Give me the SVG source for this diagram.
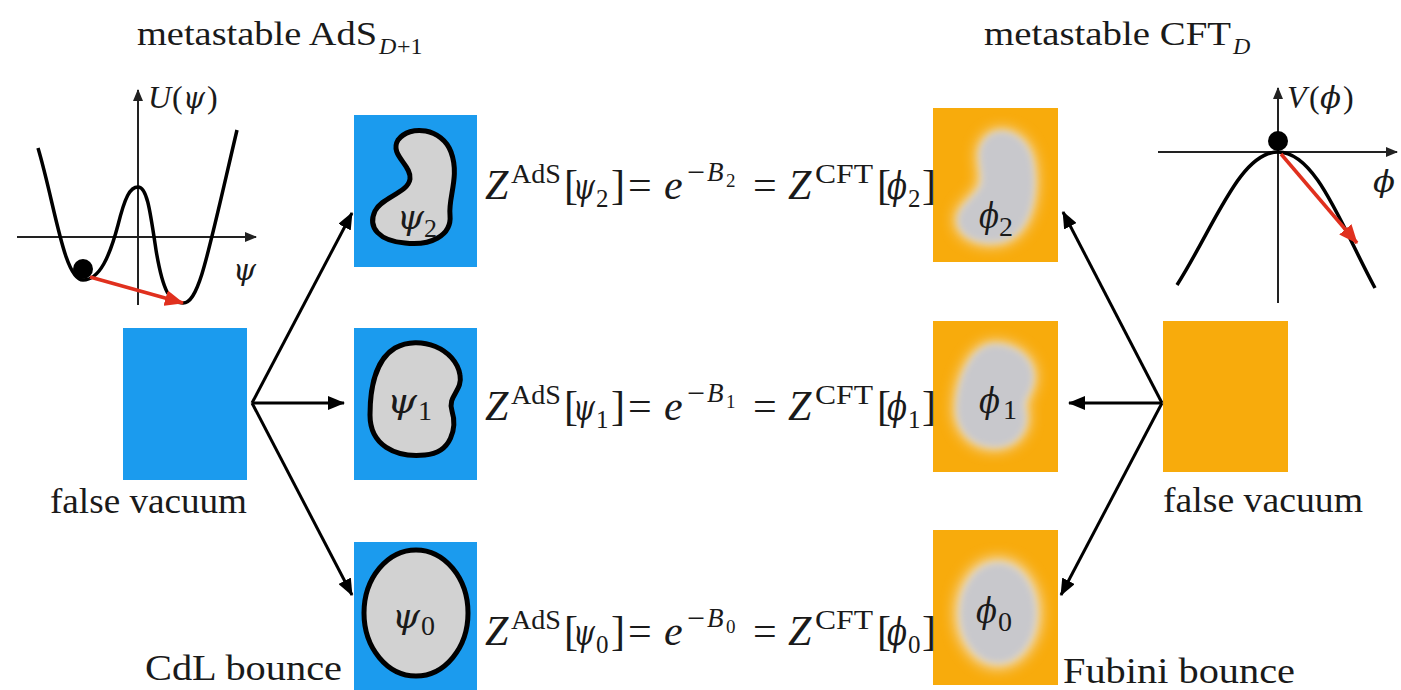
<svg xmlns="http://www.w3.org/2000/svg" width="1401" height="690" viewBox="0 0 1401 690">
<style>
  .t { font-family: "Liberation Serif", "DejaVu Serif", serif; fill: #1a1a1a; }
  .it { font-style: italic; }
  .g { font-family: "DejaVu Serif", "Liberation Serif", serif; font-style: italic; fill: #1a1a1a; }
  .lbl { font-size: 36px; }
  .m { font-size: 42px; }
  .sup { font-size: 27px; }
  .sub { font-size: 25px; }
  .ss { font-size: 19px; }
  .blue { fill: #1B9BEE; }
  .orange { fill: #F8AB0C; }
  .bub { fill: #D2D2D2; stroke: #000; stroke-width: 5; }
  .halo { fill: #F1E2C8; stroke: #F1E2C8; stroke-width: 6; filter: url(#blurA); }
  .core { fill: #C8C8CC; filter: url(#blurB); }
  .axis { stroke: #222; stroke-width: 2; fill: none; }
  .curve { stroke: #000; stroke-width: 3.5; fill: none; }
  .conn { stroke: #000; stroke-width: 3; fill: none; marker-end: url(#ah); }
  .red { stroke: #E0301E; stroke-width: 3.5; fill: none; marker-end: url(#rh); }
</style>
<defs>
  <marker id="ah" markerUnits="userSpaceOnUse" markerWidth="18" markerHeight="14" refX="16" refY="7" orient="auto">
    <path d="M0,0 L17,7 L0,14 z" fill="#000"/>
  </marker>
  <marker id="axh" markerUnits="userSpaceOnUse" markerWidth="12" markerHeight="10" refX="11" refY="5" orient="auto">
    <path d="M0,0 L12,5 L0,10 z" fill="#222"/>
  </marker>
  <marker id="rh" markerUnits="userSpaceOnUse" markerWidth="20" markerHeight="16" refX="18" refY="8" orient="auto">
    <path d="M0,0 L19,8 L0,16 z" fill="#E0301E"/>
  </marker>
  <filter id="blurA" x="-50%" y="-50%" width="200%" height="200%"><feGaussianBlur stdDeviation="7"/></filter>
  <filter id="blurB" x="-50%" y="-50%" width="200%" height="200%"><feGaussianBlur stdDeviation="3.5"/></filter>
</defs>

<rect width="1401" height="690" fill="#fff"/>

<!-- titles -->
<g id="title-left">
  <text class="t" x="137" y="45" font-size="34" textLength="240" lengthAdjust="spacingAndGlyphs">metastable AdS</text>
  <text class="t it" x="379" y="54" font-size="24">D</text>
  <text class="t" x="397" y="54" font-size="24">+1</text>
</g>
<g id="title-right">
  <text class="t" x="984" y="45" font-size="34" textLength="247" lengthAdjust="spacingAndGlyphs">metastable CFT</text>
  <text class="t it" x="1233" y="54" font-size="24">D</text>
</g>

<!-- left potential plot -->
<g id="plot-U">
  <line class="axis" x1="17" y1="237" x2="256" y2="237" marker-end="url(#axh)"/>
  <line class="axis" x1="138" y1="305" x2="138" y2="90" marker-end="url(#axh)"/>
  <path class="curve" d="M38,148 C55,205 64,280 83,280 C100,280 110,255 118,225 C125,197 130,187 138,187 C147,187 150,210 156,250 C163,292 170,303 183,303 C199,303 207,258 237,130"/>
  <line class="red" x1="90" y1="277" x2="183" y2="303"/>
  <circle cx="83" cy="269" r="10" fill="#000"/>
  <text class="t it" x="148" y="108" font-size="32">U</text>
  <text class="t" x="172" y="108" font-size="32">(</text>
  <text class="g" x="183" y="108" font-size="30" textLength="22" lengthAdjust="spacingAndGlyphs">ψ</text>
  <text class="t" x="207" y="108" font-size="32">)</text>
  <text class="g" x="233" y="280" font-size="30" textLength="23" lengthAdjust="spacingAndGlyphs">ψ</text>
</g>

<!-- right potential plot -->
<g id="plot-V">
  <line class="axis" x1="1158" y1="152" x2="1397" y2="152" marker-end="url(#axh)"/>
  <line class="axis" x1="1278" y1="303" x2="1278" y2="88" marker-end="url(#axh)"/>
  <path class="curve" d="M1177,285 C1215,225 1240,152 1278,152 C1316,152 1341,225 1375,288"/>
  <line class="red" x1="1281" y1="154" x2="1357" y2="243"/>
  <circle cx="1278" cy="141" r="10" fill="#000"/>
  <text class="t it" x="1287" y="108" font-size="32">V</text>
  <text class="t" x="1309" y="108" font-size="32">(</text>
  <text class="g" x="1320" y="108" font-size="30" textLength="21" lengthAdjust="spacingAndGlyphs">ϕ</text>
  <text class="t" x="1343" y="108" font-size="32">)</text>
  <text class="g" x="1373" y="192" font-size="30" textLength="22" lengthAdjust="spacingAndGlyphs">ϕ</text>
</g>

<!-- left false vacuum -->
<g id="ads-false-vacuum">
  <rect class="blue" x="123" y="328" width="124" height="152"/>
  <text class="t lbl" x="50" y="513" textLength="197" lengthAdjust="spacingAndGlyphs">false vacuum</text>
</g>

<!-- AdS bubbles -->
<g id="ads-psi2">
  <rect class="blue" x="354" y="115" width="123" height="152"/>
  <path class="bub" d="M398,140 C410,124 442,128 451,152 C460,176 448,198 450,215 C452,236 430,246 405,243 C380,241 367,228 375,211 C382,197 408,193 410,179 C412,165 389,155 398,140 Z"/>
  <text class="g" x="397" y="229" font-size="34" textLength="27" lengthAdjust="spacingAndGlyphs">ψ</text>
  <text class="t" x="424" y="237" font-size="26">2</text>
</g>
<g id="ads-psi1">
  <rect class="blue" x="354" y="328" width="123" height="152"/>
  <path class="bub" d="M395,348 C420,334 456,349 460,375 C463,391 447,396 452,411 C457,427 452,453 425,455 C395,458 370,445 370,415 C370,390 375,360 395,348 Z"/>
  <text class="g" x="387" y="413" font-size="36" textLength="30" lengthAdjust="spacingAndGlyphs">ψ</text>
  <text class="t" x="418" y="420" font-size="28">1</text>
</g>
<g id="ads-psi0">
  <rect class="blue" x="354" y="542" width="123" height="148"/>
  <ellipse class="bub" cx="416" cy="613" rx="52" ry="63"/>
  <text class="g" x="392" y="628" font-size="36" textLength="28" lengthAdjust="spacingAndGlyphs">ψ</text>
  <text class="t" x="421" y="635" font-size="28">0</text>
  <text class="t lbl" x="145" y="680" textLength="197" lengthAdjust="spacingAndGlyphs">CdL bounce</text>
</g>

<!-- CFT bubbles -->
<g id="cft-phi2">
  <rect class="orange" x="933" y="108" width="125" height="154"/>
  <path class="halo" d="M985,140 C995,125 1025,130 1032,160 C1038,190 1032,225 1010,238 C990,248 960,240 958,222 C956,205 982,195 982,180 C982,165 975,152 985,140 Z"/>
  <path class="core" d="M985,140 C995,125 1025,130 1032,160 C1038,190 1032,225 1010,238 C990,248 960,240 958,222 C956,205 982,195 982,180 C982,165 975,152 985,140 Z"/>
  <text class="g" x="979" y="228" font-size="36" textLength="20" lengthAdjust="spacingAndGlyphs">ϕ</text>
  <text class="t" x="999" y="236" font-size="28">2</text>
</g>
<g id="cft-phi1">
  <rect class="orange" x="933" y="321" width="125" height="151"/>
  <path class="halo" d="M990,345 C1015,342 1035,360 1033,380 C1031,395 1022,398 1025,410 C1030,430 1015,448 993,447 C968,446 955,425 957,405 C958,380 970,350 990,345 Z"/>
  <path class="core" d="M990,345 C1015,342 1035,360 1033,380 C1031,395 1022,398 1025,410 C1030,430 1015,448 993,447 C968,446 955,425 957,405 C958,380 970,350 990,345 Z"/>
  <text class="g" x="979" y="413" font-size="36" textLength="21" lengthAdjust="spacingAndGlyphs">ϕ</text>
  <text class="t" x="1003" y="419" font-size="28">1</text>
</g>
<g id="cft-phi0">
  <rect class="orange" x="933" y="530" width="125" height="155"/>
  <ellipse class="halo" cx="998" cy="613" rx="40" ry="52"/>
  <ellipse class="core" cx="998" cy="613" rx="38" ry="50"/>
  <text class="g" x="976" y="623" font-size="36" textLength="21" lengthAdjust="spacingAndGlyphs">ϕ</text>
  <text class="t" x="998" y="631" font-size="28">0</text>
  <text class="t lbl" x="1063" y="683" textLength="232" lengthAdjust="spacingAndGlyphs">Fubini bounce</text>
</g>

<!-- right false vacuum -->
<g id="cft-false-vacuum">
  <rect class="orange" x="1163" y="321" width="125" height="151"/>
  <text class="t lbl" x="1163" y="512" textLength="200" lengthAdjust="spacingAndGlyphs">false vacuum</text>
</g>

<!-- equations -->
<g id="eq-2" transform="translate(0,199)">
  <text class="t it m" x="485" y="0">Z</text>
  <text class="t sup" x="511" y="-16" textLength="50" lengthAdjust="spacingAndGlyphs">AdS</text>
  <text class="t m" x="564" y="0">[</text>
  <text class="g" x="573" y="0" font-size="38" textLength="22" lengthAdjust="spacingAndGlyphs">ψ</text>
  <text class="t sub" x="596" y="8">2</text>
  <text class="t m" x="611" y="0">]</text>
  <text class="t m" x="628" y="0">=</text>
  <text class="t it m" x="664" y="0">e</text>
  <text class="t sup" x="687" y="-18" textLength="18" lengthAdjust="spacingAndGlyphs">−</text>
  <text class="t it sup" x="707" y="-18">B</text>
  <text class="t ss" x="726" y="-12">2</text>
  <text class="t m" x="753" y="0">=</text>
  <text class="t it m" x="788" y="0">Z</text>
  <text class="t sup" x="815" y="-16" textLength="58" lengthAdjust="spacingAndGlyphs">CFT</text>
  <text class="t m" x="877" y="0">[</text>
  <text class="g" x="887" y="0" font-size="38" textLength="20" lengthAdjust="spacingAndGlyphs">ϕ</text>
  <text class="t sub" x="908" y="8">2</text>
  <text class="t m" x="922" y="0">]</text>
</g>
<g id="eq-1" transform="translate(0,420)">
  <text class="t it m" x="485" y="0">Z</text>
  <text class="t sup" x="511" y="-16" textLength="50" lengthAdjust="spacingAndGlyphs">AdS</text>
  <text class="t m" x="564" y="0">[</text>
  <text class="g" x="573" y="0" font-size="38" textLength="22" lengthAdjust="spacingAndGlyphs">ψ</text>
  <text class="t sub" x="596" y="8">1</text>
  <text class="t m" x="611" y="0">]</text>
  <text class="t m" x="628" y="0">=</text>
  <text class="t it m" x="664" y="0">e</text>
  <text class="t sup" x="687" y="-18" textLength="18" lengthAdjust="spacingAndGlyphs">−</text>
  <text class="t it sup" x="707" y="-18">B</text>
  <text class="t ss" x="726" y="-12">1</text>
  <text class="t m" x="753" y="0">=</text>
  <text class="t it m" x="788" y="0">Z</text>
  <text class="t sup" x="815" y="-16" textLength="58" lengthAdjust="spacingAndGlyphs">CFT</text>
  <text class="t m" x="877" y="0">[</text>
  <text class="g" x="887" y="0" font-size="38" textLength="20" lengthAdjust="spacingAndGlyphs">ϕ</text>
  <text class="t sub" x="908" y="8">1</text>
  <text class="t m" x="922" y="0">]</text>
</g>
<g id="eq-0" transform="translate(0,645)">
  <text class="t it m" x="485" y="0">Z</text>
  <text class="t sup" x="511" y="-16" textLength="50" lengthAdjust="spacingAndGlyphs">AdS</text>
  <text class="t m" x="564" y="0">[</text>
  <text class="g" x="573" y="0" font-size="38" textLength="22" lengthAdjust="spacingAndGlyphs">ψ</text>
  <text class="t sub" x="596" y="8">0</text>
  <text class="t m" x="611" y="0">]</text>
  <text class="t m" x="628" y="0">=</text>
  <text class="t it m" x="664" y="0">e</text>
  <text class="t sup" x="687" y="-18" textLength="18" lengthAdjust="spacingAndGlyphs">−</text>
  <text class="t it sup" x="707" y="-18">B</text>
  <text class="t ss" x="726" y="-12">0</text>
  <text class="t m" x="753" y="0">=</text>
  <text class="t it m" x="788" y="0">Z</text>
  <text class="t sup" x="815" y="-16" textLength="58" lengthAdjust="spacingAndGlyphs">CFT</text>
  <text class="t m" x="877" y="0">[</text>
  <text class="g" x="887" y="0" font-size="38" textLength="20" lengthAdjust="spacingAndGlyphs">ϕ</text>
  <text class="t sub" x="908" y="8">0</text>
  <text class="t m" x="922" y="0">]</text>
</g>

<!-- connectors -->
<g id="connectors">
  <line class="conn" x1="252" y1="403" x2="352" y2="213"/>
  <line class="conn" x1="252" y1="403" x2="344" y2="403"/>
  <line class="conn" x1="252" y1="403" x2="352" y2="595"/>
  <line class="conn" x1="1162" y1="403" x2="1063" y2="212"/>
  <line class="conn" x1="1162" y1="403" x2="1069" y2="403"/>
  <line class="conn" x1="1162" y1="403" x2="1061" y2="595"/>
</g>
</svg>
